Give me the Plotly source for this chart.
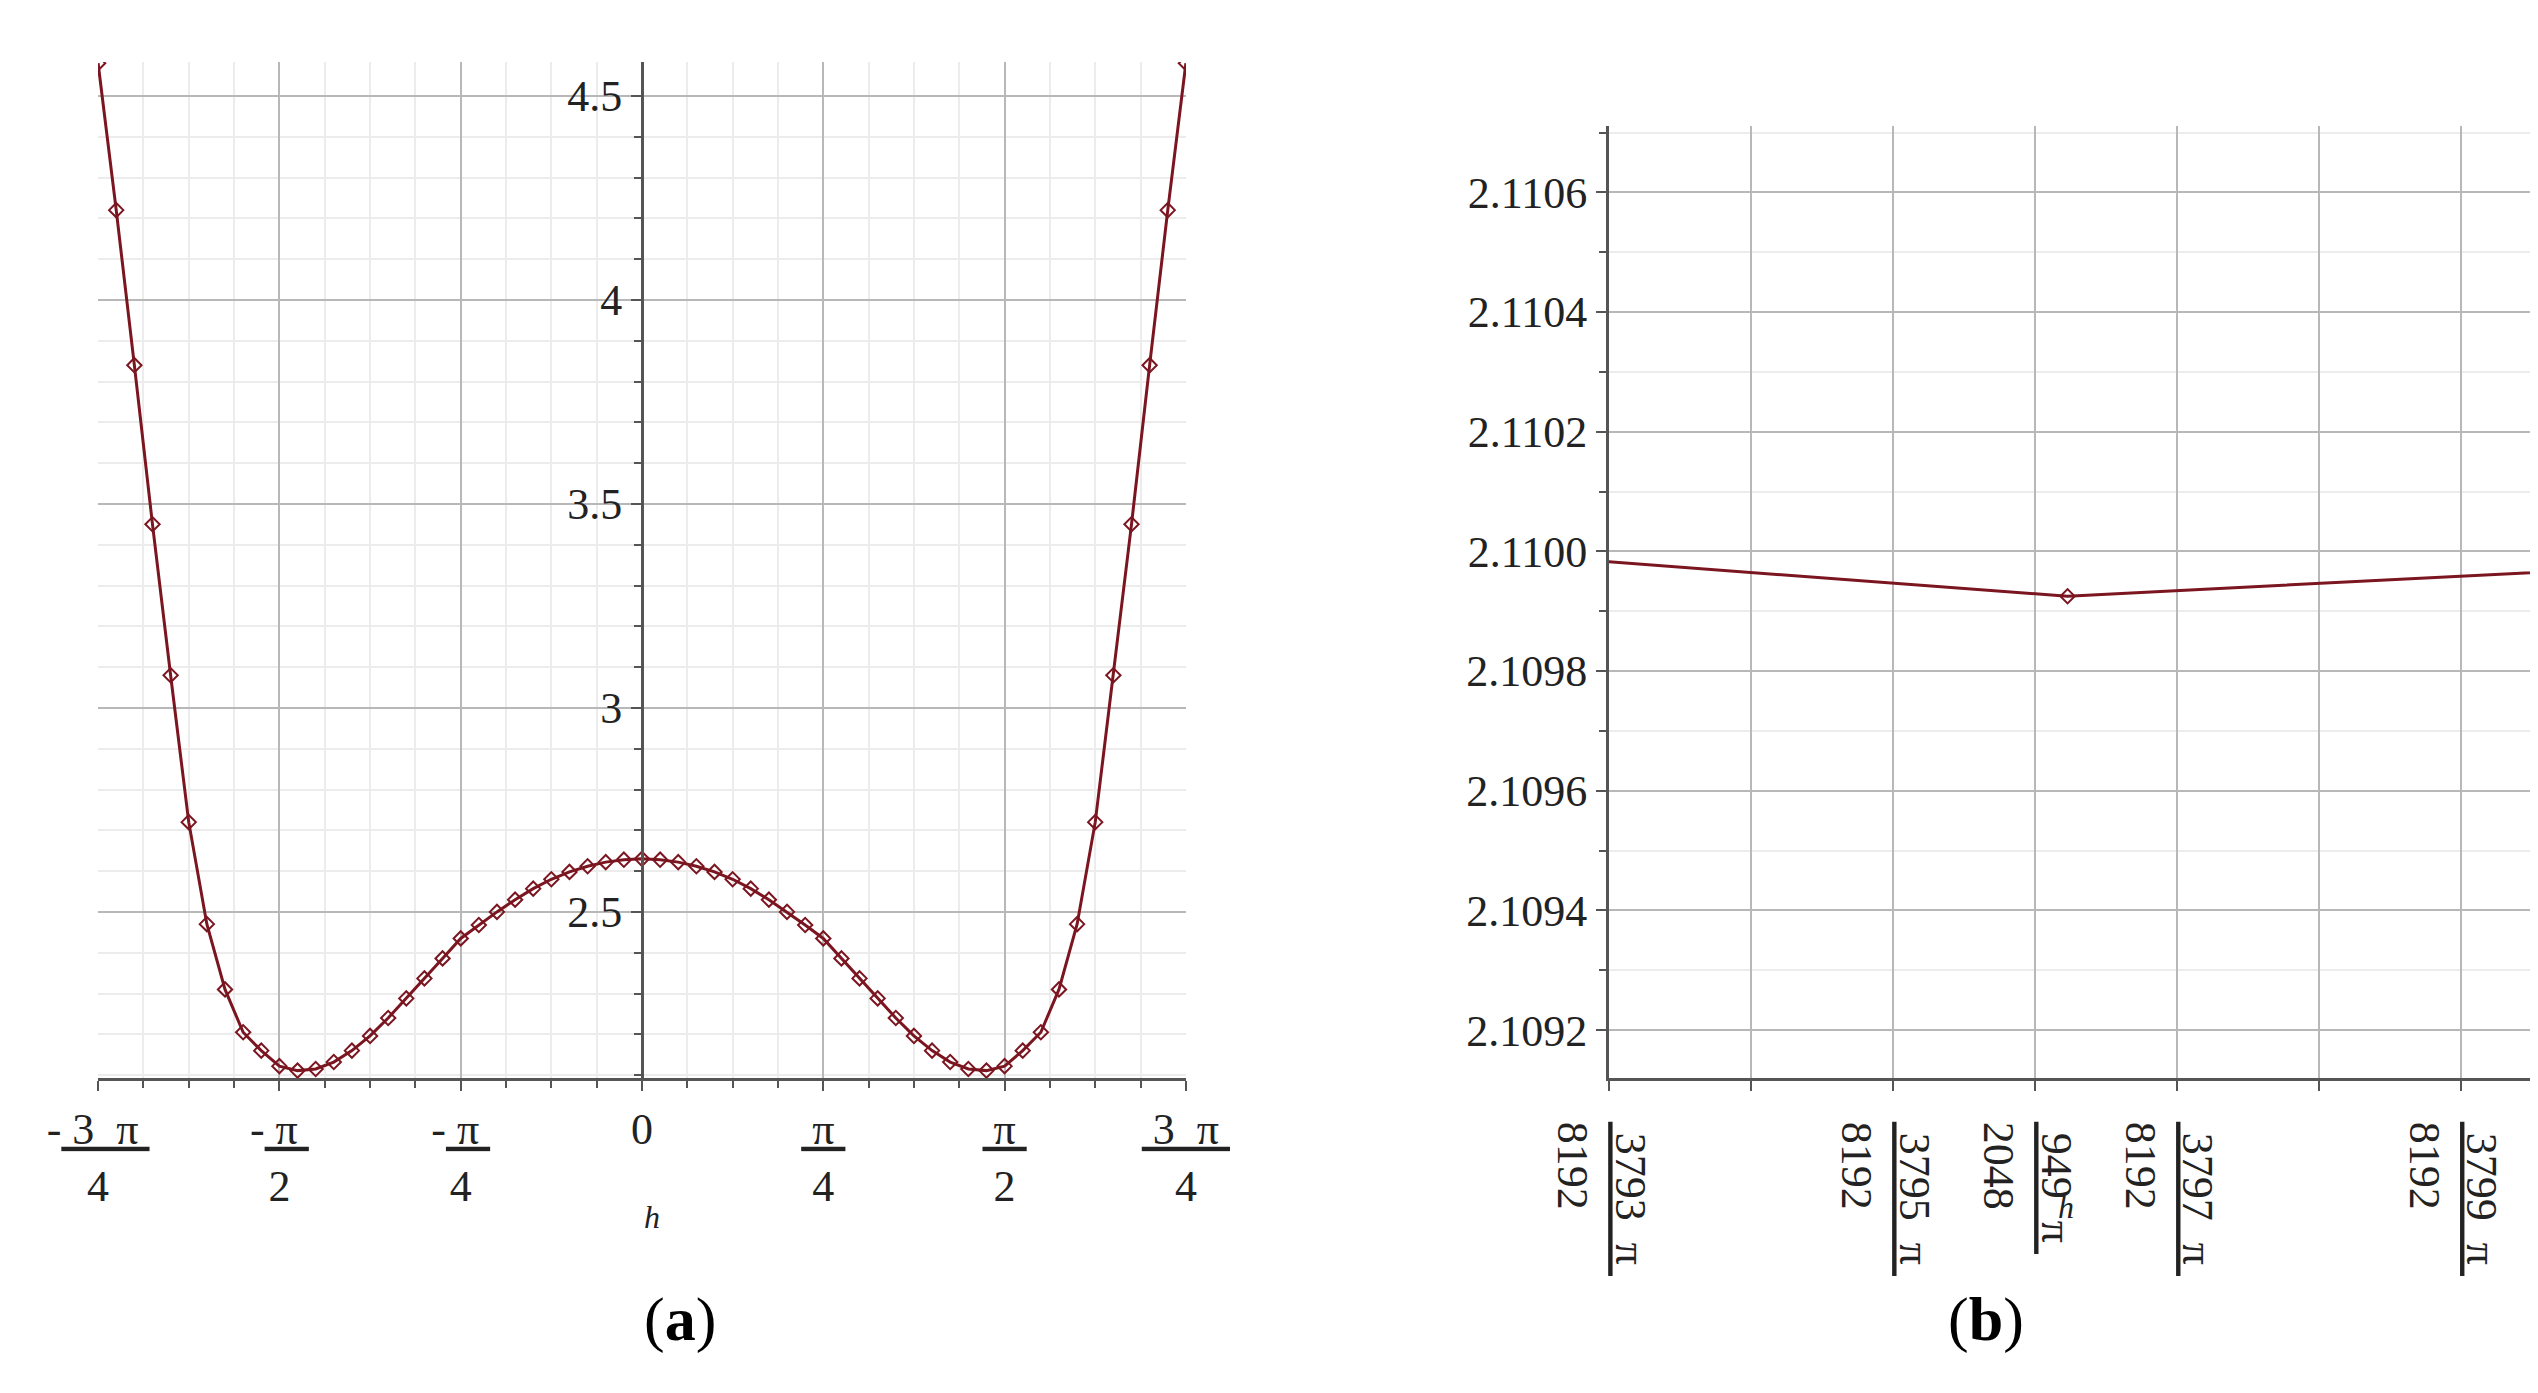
import numpy as np
import plotly.graph_objects as go

# Panel (a): h = k*pi/40, k=-30..30 (symmetric)
k_half = list(range(0, 31))
y_half = [2.630, 2.628, 2.622, 2.612, 2.598, 2.580, 2.557, 2.530, 2.500, 2.468,
          2.435, 2.386, 2.337, 2.288, 2.240, 2.196, 2.160, 2.132, 2.115, 2.111,
          2.122, 2.160, 2.205, 2.310, 2.470, 2.720, 3.080, 3.450, 3.840, 4.220, 4.580]
k_a = [-k for k in k_half[:0:-1]] + k_half
y_a = y_half[:0:-1] + y_half
x_a = [k * np.pi / 40 for k in k_a]

# Panel (b): h in units of pi/8192
n_b = [3790.0, 3796.23, 3802.0]
y_b = [2.110036, 2.109925, 2.109995]
x_b = [n * np.pi / 8192 for n in n_b]

a_tickvals = [-3, -2, -1, 0, 1, 2, 3]
b_ticknums = [3793, 3794, 3795, 3796, 3797, 3798, 3799]
b_ticklabels = ["3793  π|8192", "", "3795  π|8192", "949  π|2048", "3797  π|8192", "", "3799  π|8192"]
a_ticklabels = ["-|3  π|4", "-|π|2", "-|π|4", "0", "|π|4", "|π|2", "|3  π|4"]

def frac(s):
    if "|" not in s:
        return s + "<br> "
    parts = s.split("|")
    if len(parts) == 3:
        sign, num, den = parts
    else:
        sign, (num, den) = "", parts
    return (f"{sign}<span style='text-decoration:underline'>&nbsp;{num}&nbsp;</span><br>{den}")

RED = "#7b1520"
font = dict(family="Liberation Serif", size=44, color="#222")
fig = go.Figure()
fig.add_trace(go.Scatter(x=x_a, y=y_a, mode="lines+markers", xaxis="x", yaxis="y",
                         line=dict(color=RED, width=3),
                         marker=dict(symbol="diamond-open", size=11, color=RED, line=dict(width=2))))
fig.add_trace(go.Scatter(x=x_b, y=y_b, mode="lines+markers", xaxis="x2", yaxis="y2",
                         line=dict(color=RED, width=3),
                         marker=dict(symbol="diamond-open", size=11, color=RED, line=dict(width=2))))

grid = dict(showgrid=True, gridcolor="#b8b8b8", gridwidth=2, zeroline=False,
            showline=True, linecolor="#555", linewidth=3, ticks="outside",
            ticklen=10, tickcolor="#555", tickwidth=2, tickfont=font, automargin=False)

fig.update_layout(
    width=2538, height=1393, margin=dict(l=0, r=0, t=0, b=0),
    paper_bgcolor="white", plot_bgcolor="white", showlegend=False,
    xaxis=dict(grid, domain=[0.0355, 0.4641], range=[-3*np.pi/4, 3*np.pi/4],
               tickvals=[v*np.pi/4 for v in a_tickvals],
               ticktext=[frac(s) for s in a_ticklabels],
               minor=dict(dtick=np.pi/16, tick0=0, showgrid=True, gridcolor="#ececec",
                          ticks="outside", ticklen=7, tickcolor="#555"),
               anchor="y"),
    yaxis=dict(grid, domain=[0.2319, 0.9612], range=[2.093, 4.583],
               tickvals=[2.5, 3, 3.5, 4, 4.5], ticktext=["2.5", "3", "3.5", "4", "4.5"],
               anchor="free", position=0.2498,
               minor=dict(dtick=0.1, tick0=0, showgrid=True, gridcolor="#ececec",
                          ticks="outside", ticklen=7, tickcolor="#555")),
    xaxis2=dict(grid, domain=[0.6308, 1.0], range=[3793*np.pi/8192, 3799.6*np.pi/8192],
                tickvals=[n*np.pi/8192 for n in b_ticknums],
                ticktext=[frac(s) for s in b_ticklabels], anchor="y2"),
    yaxis2=dict(grid, domain=[0.2319, 0.9153], range=[2.10912, 2.110711],
                tickvals=[2.1092, 2.1094, 2.1096, 2.1098, 2.1100, 2.1102, 2.1104, 2.1106],
                ticktext=["2.1092", "2.1094", "2.1096", "2.1098", "2.1100", "2.1102", "2.1104", "2.1106"],
                minor=dict(dtick=0.0001, showgrid=True, gridcolor="#ececec",
                           ticks="outside", ticklen=7, tickcolor="#555"),
                anchor="x2"),
)
fig.add_annotation(text="<i>h</i>", x=0.2498, y=0.118, xref="paper", yref="paper",
                   showarrow=False, font=dict(family="Liberation Serif", size=32, color="#222"))
fig.add_annotation(text="<i>h</i>", x=0.815, y=0.125, xref="paper", yref="paper",
                   showarrow=False, font=dict(family="Liberation Serif", size=32, color="#222"))
fig.add_annotation(text="(<b>a</b>)", x=0.2498, y=0.032, xref="paper", yref="paper",
                   showarrow=False, font=dict(family="Liberation Serif", size=62, color="black"))
fig.add_annotation(text="(<b>b</b>)", x=0.795, y=0.032, xref="paper", yref="paper",
                   showarrow=False, font=dict(family="Liberation Serif", size=62, color="black"))
fig.write_html("out.html")
